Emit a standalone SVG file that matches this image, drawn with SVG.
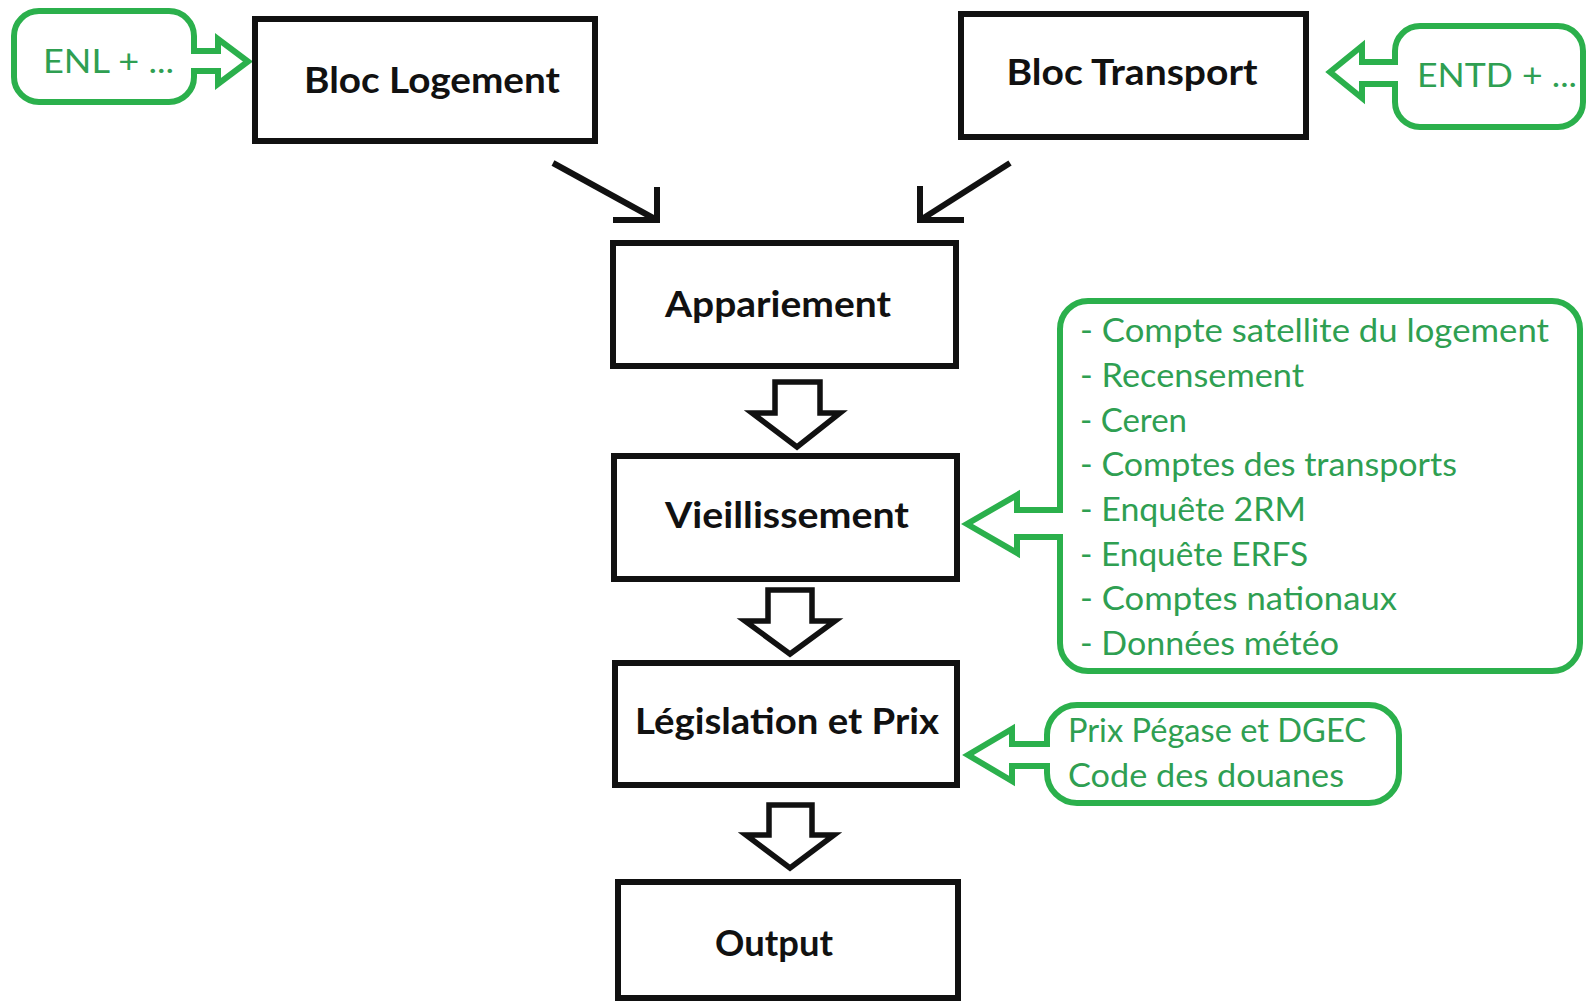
<svg xmlns="http://www.w3.org/2000/svg" width="1587" height="1003" viewBox="0 0 1587 1003">
<style>
.box{fill:#fff;stroke:#111;stroke-width:6}
.lbl{font-family:Lato,"Open Sans","Liberation Sans",sans-serif;font-weight:bold;font-size:36px;fill:#111;text-anchor:middle}
.gbox{fill:#fff;stroke:#2bb04c;stroke-width:6;stroke-linejoin:miter}
.gtxt{font-family:Lato,"Open Sans","Liberation Sans",sans-serif;font-size:32px;fill:#2f9f52}
.line{fill:none;stroke:#111;stroke-width:6}
.hollow{fill:#fff;stroke:#111;stroke-width:5.5;stroke-linejoin:miter}
</style>
<rect width="1587" height="1003" fill="#fff"/>
<g id="connectors">
<line class="line" x1="553" y1="163" x2="655" y2="219"/>
<polyline class="line" points="657,187 657,220 613,220"/>
<line class="line" x1="1010" y1="163" x2="922" y2="219"/>
<polyline class="line" points="920,186 920,220 964,220"/>
<polygon class="hollow" points="775,382 820,382 820,413 840,413 797,447 752,413 775,413"/>
<polygon class="hollow" points="768,590 812,590 812,621 835,621 790,654 745,621 768,621"/>
<polygon class="hollow" points="769,805 812,805 812,835 834,835 790,868 746,835 769,835"/>
</g>
<g id="enl">
<path class="gbox" d="M39,11 H169 A25,25 0 0 1 194,36 V51 H218 V39 L248,61.5 L218,84 V71 H194 V77 A25,25 0 0 1 169,102 H39 A25,25 0 0 1 14,77 V36 A25,25 0 0 1 39,11 Z"/>
<text class="gtxt" x="43" y="73" textLength="131" lengthAdjust="spacingAndGlyphs">ENL + ...</text>
</g>
<g id="entd">
<path class="gbox" d="M1420,26 H1558 A25,25 0 0 1 1583,51 V102 A25,25 0 0 1 1558,127 H1420 A25,25 0 0 1 1395,102 V84 H1362 V98 L1330,72 L1362,46 V62 H1395 V51 A25,25 0 0 1 1420,26 Z"/>
<text class="gtxt" x="1417" y="87" textLength="160" lengthAdjust="spacingAndGlyphs">ENTD + ...</text>
</g>
<g id="bloc-logement">
<rect class="box" x="255" y="19" width="340" height="122"/>
<text class="lbl" x="432" y="93" textLength="256" lengthAdjust="spacingAndGlyphs">Bloc Logement</text>
</g>
<g id="bloc-transport">
<rect class="box" x="961" y="14" width="345" height="123"/>
<text class="lbl" x="1132" y="85" textLength="251" lengthAdjust="spacingAndGlyphs">Bloc Transport</text>
</g>
<g id="appariement">
<rect class="box" x="613" y="243" width="343" height="123"/>
<text class="lbl" x="778" y="317" textLength="226" lengthAdjust="spacingAndGlyphs">Appariement</text>
</g>
<g id="vieillissement">
<rect class="box" x="614" y="456" width="343" height="123"/>
<text class="lbl" x="787" y="528" textLength="244" lengthAdjust="spacingAndGlyphs">Vieillissement</text>
</g>
<g id="legislation">
<rect class="box" x="615" y="663" width="342" height="122"/>
<text class="lbl" x="787" y="734" textLength="304" lengthAdjust="spacingAndGlyphs">Législation et Prix</text>
</g>
<g id="output">
<rect class="box" x="618" y="882" width="340" height="116"/>
<text class="lbl" x="774" y="956" textLength="118" lengthAdjust="spacingAndGlyphs">Output</text>
</g>
<g id="sources-vieillissement">
<path class="gbox" d="M1088,301 H1552 A28,28 0 0 1 1580,329 V643 A28,28 0 0 1 1552,671 H1088 A28,28 0 0 1 1060,643 V537 H1017 V553 L967,524 L1017,495 V510 H1060 V329 A28,28 0 0 1 1088,301 Z"/>
<text class="gtxt" x="1080" y="342" textLength="469" lengthAdjust="spacingAndGlyphs">- Compte satellite du logement</text>
<text class="gtxt" x="1080" y="387" textLength="224" lengthAdjust="spacingAndGlyphs">- Recensement</text>
<text class="gtxt" x="1080" y="432" textLength="107" lengthAdjust="spacingAndGlyphs">- Ceren</text>
<text class="gtxt" x="1080" y="476" textLength="377" lengthAdjust="spacingAndGlyphs">- Comptes des transports</text>
<text class="gtxt" x="1080" y="521" textLength="226" lengthAdjust="spacingAndGlyphs">- Enquête 2RM</text>
<text class="gtxt" x="1080" y="566" textLength="228" lengthAdjust="spacingAndGlyphs">- Enquête ERFS</text>
<text class="gtxt" x="1080" y="610" textLength="317" lengthAdjust="spacingAndGlyphs">- Comptes nationaux</text>
<text class="gtxt" x="1080" y="655" textLength="259" lengthAdjust="spacingAndGlyphs">- Données météo</text>
</g>
<g id="sources-prix">
<path class="gbox" d="M1077,705 H1369 A30,30 0 0 1 1399,735 V773 A30,30 0 0 1 1369,803 H1077 A30,30 0 0 1 1047,773 V766 H1012 V781 L968,755 L1012,729 V744 H1047 V735 A30,30 0 0 1 1077,705 Z"/>
<text class="gtxt" x="1068" y="742" textLength="298" lengthAdjust="spacingAndGlyphs">Prix Pégase et DGEC</text>
<text class="gtxt" x="1068" y="787" textLength="276" lengthAdjust="spacingAndGlyphs">Code des douanes</text>
</g>
</svg>
